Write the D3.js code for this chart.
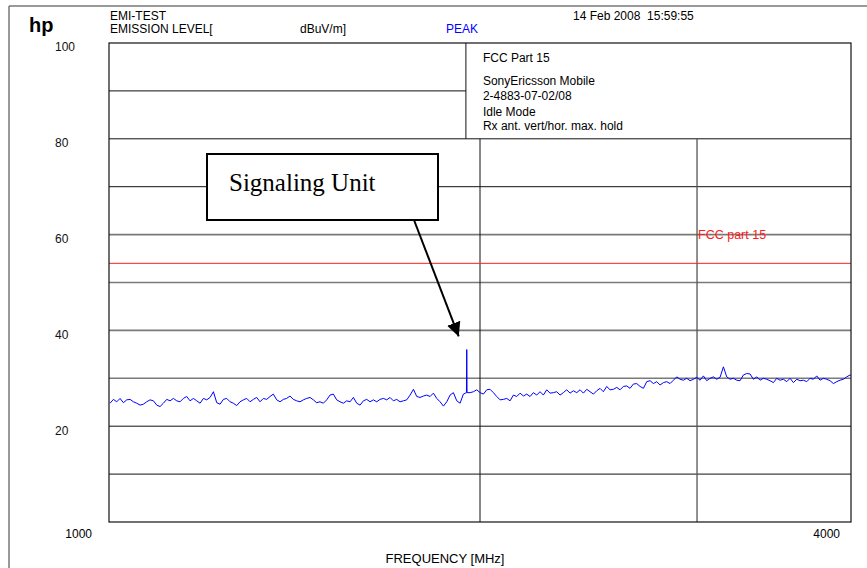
<!DOCTYPE html>
<html><head><meta charset="utf-8">
<script src="https://cdn.jsdelivr.net/npm/d3@7"></script>
<style>
html,body{margin:0;padding:0;background:#fff;}
</style></head>
<body><svg id="chart" width="867" height="568"></svg>
<script>
// ---- data ----
const freqMHz = [
1002.0,1008.3,1014.6,1020.9,1027.3,1033.7,1040.2,1046.7,1053.2,1059.8,
1066.4,1073.0,1079.7,1086.5,1093.3,1100.1,1107.0,1113.9,1120.9,1127.9,
1134.9,1142.0,1149.1,1156.3,1163.5,1170.8,1178.1,1185.5,1192.9,1200.3,
1207.8,1215.4,1223.0,1230.6,1238.3,1246.0,1253.8,1261.6,1269.5,1277.4,
1285.4,1293.4,1301.5,1309.6,1317.8,1326.0,1334.3,1342.6,1351.0,1359.4,
1368.0,1376.5,1385.1,1393.7,1402.4,1411.2,1420.0,1428.9,1437.8,1446.8,
1455.9,1465.0,1474.1,1483.3,1492.6,1501.9,1511.3,1520.7,1530.2,1539.8,
1549.5,1559.2,1568.9,1578.7,1588.6,1598.5,1608.5,1618.5,1628.6,1638.8,
1649.1,1659.4,1669.7,1680.1,1690.6,1701.2,1711.8,1722.5,1733.3,1744.1,
1755.1,1766.1,1777.1,1788.2,1799.4,1810.6,1821.9,1833.3,1844.7,1856.2,
1867.9,1879.6,1891.3,1903.1,1915.0,1927.0,1939.0,1950.0,1951.1,1952.2,1963.3,1975.6,
1987.9,2000.3,2012.8,2025.4,2038.0,2050.7,2063.5,2076.4,2089.4,2102.4,
2115.6,2128.8,2142.1,2155.5,2169.0,2182.5,2196.1,2209.8,2223.6,2237.5,
2251.5,2265.5,2279.7,2293.9,2308.2,2322.6,2337.1,2351.7,2366.4,2381.2,
2396.2,2411.2,2426.2,2441.4,2456.6,2472.0,2487.4,2502.9,2518.5,2534.2,
2550.2,2566.1,2582.1,2598.2,2614.4,2630.8,2647.2,2663.7,2680.3,2697.1,
2714.1,2731.0,2748.1,2765.2,2782.5,2799.9,2817.4,2835.0,2852.7,2870.5,
2888.5,2906.5,2924.7,2943.0,2961.3,2979.8,2998.4,3017.2,3036.0,3055.0,
3074.1,3093.3,3112.6,3132.0,3151.6,3171.3,3191.1,3211.0,3231.1,3251.3,
3271.6,3292.0,3312.6,3333.3,3354.1,3375.1,3396.2,3417.4,3438.7,3460.2,
3481.8,3503.6,3525.5,3547.5,3569.7,3592.0,3614.4,3637.0,3659.7,3682.6,
3705.5,3728.7,3752.0,3775.4,3799.0,3822.7,3846.6,3870.6,3894.8,3919.2,
3943.6,3968.3,3993.1,4000.0];
const levelDbuV = [
24.8,25.6,25.1,25.8,24.9,25.5,25.6,25.1,24.8,24.4,
24.6,25.1,25.5,25.3,24.4,24.1,24.8,25.6,25.3,25.8,
25.3,25.1,25.8,26.2,25.3,25.8,25.3,24.8,25.8,25.5,
26.0,27.2,24.9,24.6,25.6,25.8,25.1,24.8,24.3,25.1,
25.5,25.8,25.1,25.6,26.0,25.1,25.8,25.6,26.2,26.7,
25.5,25.1,25.6,25.8,26.3,25.6,25.3,25.1,25.5,25.8,
26.0,25.5,24.9,25.1,24.8,25.5,26.5,26.7,25.5,25.1,
24.8,25.3,25.1,26.0,24.8,24.4,25.3,25.6,25.1,25.5,
25.1,25.6,25.8,25.5,26.0,25.3,25.6,25.1,25.3,25.5,
26.5,27.7,26.2,26.0,26.3,26.5,26.2,26.9,25.8,25.1,
24.2,25.1,26.5,27.0,25.3,24.8,26.7,27.0,36.0,27.0,27.0,27.2,
27.6,27.0,26.7,27.6,27.7,27.0,26.2,25.5,25.6,25.8,
25.3,26.5,26.2,26.9,26.3,26.7,26.2,27.0,26.5,27.2,
26.5,27.6,26.9,27.0,27.2,26.5,27.0,27.6,26.9,27.4,
27.0,27.6,26.9,27.7,27.2,26.7,27.4,27.9,27.2,28.3,
27.6,27.7,28.1,27.6,28.3,28.4,27.9,28.8,28.9,28.3,
27.9,29.3,29.5,28.9,29.3,28.6,29.1,29.3,28.9,29.6,
30.3,29.8,29.6,30.0,29.5,29.8,30.2,29.6,30.5,29.5,
30.0,30.3,29.8,30.2,32.4,30.3,29.8,30.0,29.6,29.5,
30.7,31.0,30.9,29.8,30.3,29.6,30.0,29.8,29.5,29.1,
30.0,29.6,29.8,29.3,30.0,29.1,29.8,29.5,29.6,29.3,
30.0,29.8,30.5,29.6,30.0,29.8,29.5,28.9,29.3,29.6,
29.8,30.3,30.7,30.6];
const limitDbuV = 54;
const limitLabel = "FCC part 15";
const yTickLabels = [100, 80, 60, 40, 20];
const xTickLabels = [1000, 4000];
const gridThinLevels = [80, 70, 20, 10];
const gridGreyLevels = [60, 50, 40, 30];
const gridUpperLevels = [90];
const gridFreqs = [2000, 3000];
const infoLines = ["SonyEricsson Mobile", "2-4883-07-02/08", "Idle Mode", "Rx ant. vert/hor. max. hold"];
const infoTitle = "FCC Part 15";
const annotationText = "Signaling Unit";
const annotationTarget = {freq: 1951, level: 37.5};

// ---- layout ----
const L = 109, R = 851, T = 43, B = 522;
const SANS = "'Liberation Sans', Arial, sans-serif";
const SERIF = "'Liberation Serif', 'Times New Roman', serif";
const svg = d3.select("#chart");
const x = d3.scaleLog().domain([1000, 4000]).range([L, R]);
const y = d3.scaleLinear().domain([0, 100]).range([B, T]);
const legendDivider = 1948;

function txt(px, py, size, s, color) {
  return svg.append("text").attr("x", px).attr("y", py)
    .style("font-family", SANS).style("font-size", size + "px")
    .attr("fill", color || "#000").text(s);
}

// outer page frame
svg.append("line").attr("x1",9).attr("x2",9).attr("y1",6).attr("y2",568).attr("stroke","#777").attr("stroke-width",1.5);
svg.append("line").attr("x1",9).attr("x2",867).attr("y1",6).attr("y2",6).attr("stroke","#777").attr("stroke-width",1.5);

// header texts
txt(29, 32, 20, "hp").style("font-weight","bold");
txt(110, 19.5, 12, "EMI-TEST");
txt(110, 33, 12, "EMISSION LEVEL[");
txt(300, 33, 12, "dBuV/m]");
txt(446, 33, 12, "PEAK", "#0000ff");
txt(573, 20, 12, "14 Feb 2008\u00a0\u00a015:59:55");

// grid
const g = svg.append("g");
g.selectAll(".gthin").data(gridThinLevels).join("line")
  .attr("x1",L).attr("x2",R).attr("y1",d=>y(d)).attr("y2",d=>y(d))
  .attr("stroke","#111").attr("stroke-width",1);
g.selectAll(".gup").data(gridUpperLevels).join("line")
  .attr("x1",L).attr("x2",x(legendDivider)).attr("y1",d=>y(d)).attr("y2",d=>y(d))
  .attr("stroke","#111").attr("stroke-width",1);
g.selectAll(".ggrey").data(gridGreyLevels).join("line")
  .attr("x1",L).attr("x2",R).attr("y1",d=>y(d)).attr("y2",d=>y(d))
  .attr("stroke","#7a7a7a").attr("stroke-width",1.6);
g.selectAll(".gv").data(gridFreqs).join("line")
  .attr("x1",d=>x(d)).attr("x2",d=>x(d)).attr("y1",y(80)).attr("y2",B)
  .attr("stroke",(d,i)=> i===0 ? "#111" : "#555").attr("stroke-width",(d,i)=> i===0 ? 1 : 1.3);
g.append("line").attr("x1",x(legendDivider)).attr("x2",x(legendDivider)).attr("y1",T).attr("y2",y(80))
  .attr("stroke","#111").attr("stroke-width",1);

// limit line
svg.append("line").attr("x1",L).attr("x2",R).attr("y1",y(limitDbuV)).attr("y2",y(limitDbuV))
  .attr("stroke","#ff2020").attr("stroke-width",1);
txt(x(3000)+1, y(60)+4.5, 12.5, limitLabel, "#ff1a1a");

// trace
const line = d3.line().x(d=>x(d[0])).y(d=>y(d[1]));
svg.append("path").datum(freqMHz.map((f,i)=>[f, levelDbuV[i]]))
  .attr("d", line).attr("fill","none").attr("stroke","#0000ff").attr("stroke-width",1)
  .attr("stroke-linejoin","miter");

// plot frame
svg.append("rect").attr("x",L).attr("y",T).attr("width",R-L).attr("height",B-T)
  .attr("fill","none").attr("stroke","#111").attr("stroke-width",1.2);

// info box texts
const ix = x(legendDivider) + 17;
txt(ix, 62, 12, infoTitle);
infoLines.forEach((s,i)=> txt(ix, [85,100,115.5,130][i], 12, s));

// y axis labels
const ya = svg.append("g").attr("transform","translate(55,0)")
  .call(d3.axisLeft(y).tickValues(yTickLabels).tickSize(0).tickPadding(0));
ya.select(".domain").remove();
ya.selectAll("text").attr("text-anchor","start").attr("x",0).attr("dy","0.32em")
  .attr("transform","translate(0,4)").style("font-size","12px").style("font-family",SANS).attr("fill","#111");

// x axis labels
txt(x(xTickLabels[0])-17, 538, 12, xTickLabels[0]).attr("text-anchor","end");
txt(x(xTickLabels[1])-11, 538, 12, xTickLabels[1]).attr("text-anchor","end");
txt(445, 563, 13, "FREQUENCY [MHz]").attr("text-anchor","middle");

// annotation
svg.append("defs").append("marker").attr("id","ah").attr("viewBox","0 0 10 10").attr("refX",10).attr("refY",5)
  .attr("markerWidth",14).attr("markerHeight",14).attr("markerUnits","userSpaceOnUse").attr("orient","auto")
  .append("path").attr("d","M0,0 L10,5 L0,10 z").attr("fill","#000");
svg.append("rect").attr("x",207).attr("y",154).attr("width",231).attr("height",66)
  .attr("fill","#fff").attr("stroke","#000").attr("stroke-width",2);
svg.append("text").attr("x",229).attr("y",191).style("font-size","25px").style("font-family",SERIF)
  .attr("fill","#000").text(annotationText);
svg.append("line").attr("x1",414).attr("y1",220).attr("x2",x(annotationTarget.freq)-8).attr("y2",y(annotationTarget.level)-6)
  .attr("stroke","#000").attr("stroke-width",2).attr("marker-end","url(#ah)");
</script></body></html>
